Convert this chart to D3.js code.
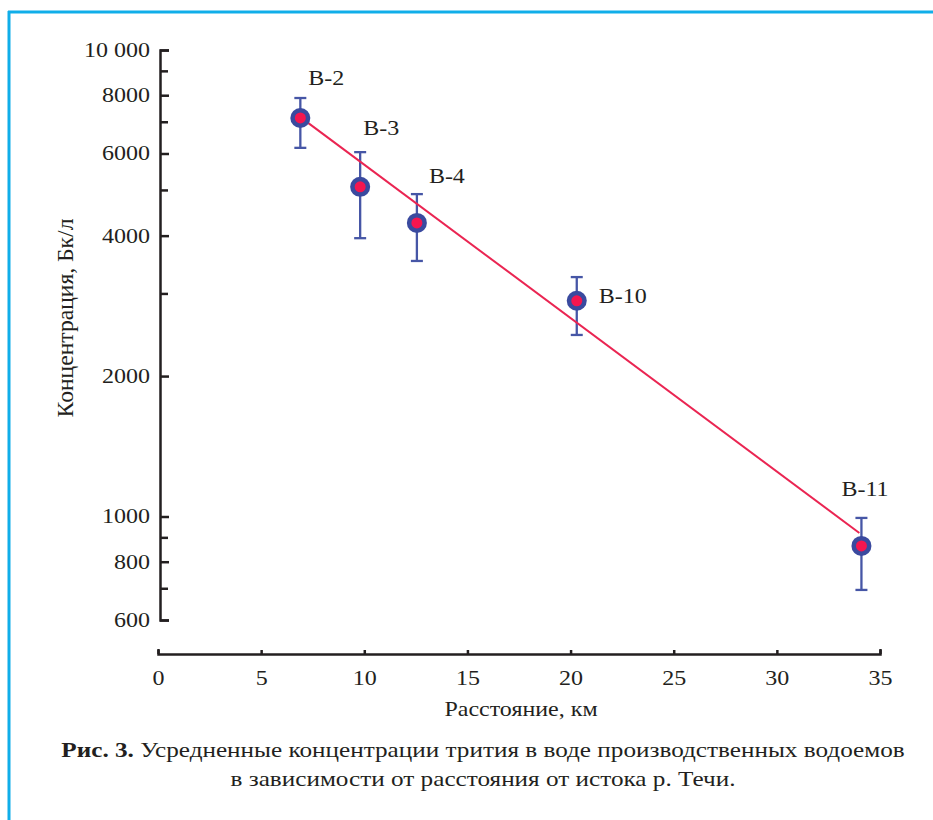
<!DOCTYPE html>
<html>
<head>
<meta charset="utf-8">
<script src="https://cdn.jsdelivr.net/npm/d3@7"></script>
<style>
  body { margin: 0; background: #fff; }
  text { font-family: "Liberation Serif", "DejaVu Serif", serif; fill: #231f20; }
</style>
</head>
<body>
<svg id="plotSVG" width="933" height="820"></svg>
<script>
// points (reservoirs along the Techa)
let names = ["В-2", "В-3", "В-4", "В-10", "В-11"]
let distance = [6.9, 9.8, 12.55, 20.3, 34.1]     // km
let conc = [7150, 5090, 4260, 2900, 865]          // Bq/l
let errLow = [6170, 3950, 3530, 2450, 696]
let errHigh = [7890, 6040, 4910, 3260, 993]

// fitted line, its two ends
let fitX = [6.9, 34.0]
let fitY = [7180, 922]

let yMajor = [10000, 8000, 6000, 4000, 2000, 1000, 800, 600]
let yMinor = [9000, 7000, 5000, 3000, 900, 700]
let xTicks = [0, 5, 10, 15, 20, 25, 30, 35]

// label offsets from the point centre
let labelOffset = [[8, -33], [3, -52], [12, -40], [22, 2], [-20, -50]]

let blue = "#3a4a9f", red = "#f5164f", axisCol = "#231f20"
let stretch = "scale(1.2,1)"   // the original figure is a bit wider than tall

let svg = d3.select("#plotSVG")

// blue frame
svg.append("line").attr("x1", 8).attr("x2", 933).attr("y1", 12).attr("y2", 12)
    .attr("stroke", "#10aee9").attr("stroke-width", 3)
svg.append("line").attr("x1", 9).attr("x2", 9).attr("y1", 11).attr("y2", 820)
    .attr("stroke", "#10aee9").attr("stroke-width", 3)

let xScale = d3.scaleLinear().domain([0, 35]).range([158, 880])
let yScale = d3.scaleLog().domain([600, 10000]).range([620, 50])

// y axis
let yAxis = svg.append("g").attr("transform", "translate(160,0)")
    .call(d3.axisLeft(yScale)
        .tickValues(yMajor)
        .tickFormat(d => d === 10000 ? "10 000" : d)
        .tickSize(-9)
        .tickSizeOuter(-9)
        .tickPadding(8.3))
yAxis.select(".domain").attr("stroke", axisCol).attr("stroke-width", 2.5)
yAxis.selectAll(".tick line").attr("stroke", axisCol).attr("stroke-width", 2.5)
yAxis.selectAll(".tick text")
    .attr("transform", stretch)
    .style("font-size", "20px")
    .style("font-family", "Liberation Serif")
    .attr("fill", axisCol)

yAxis.selectAll(".minor")
    .data(yMinor)
    .join("line")
    .attr("class", "minor")
    .attr("x1", 0).attr("x2", 8)
    .attr("y1", d => yScale(d)).attr("y2", d => yScale(d))
    .attr("stroke", axisCol).attr("stroke-width", 2.5)

// x axis
let xAxis = svg.append("g").attr("transform", "translate(0,654)")
    .call(d3.axisBottom(xScale)
        .tickValues(xTicks)
        .tickSize(-4)
        .tickSizeOuter(-5)
        .tickPadding(17))
xAxis.select(".domain").attr("stroke", axisCol).attr("stroke-width", 2.5)
xAxis.selectAll(".tick line").attr("stroke", axisCol).attr("stroke-width", 2.5)
xAxis.selectAll(".tick text")
    .attr("transform", stretch)
    .style("font-size", "20px")
    .style("font-family", "Liberation Serif")
    .attr("fill", axisCol)

// text helper: SVG has no font stretch, so scale the glyphs
function stretchedText(x, y, txt, anchor, size, tf) {
    let g = svg.append("g")
        .attr("transform", `translate(${x},${y}) ` + (tf || stretch))
    return g.append("text")
        .attr("text-anchor", anchor)
        .style("font-size", (size || 20) + "px")
        .text(txt)
}
stretchedText(521, 716, "Расстояние, км", "middle")
stretchedText(73, 318, "Концентрация, Бк/л", "middle", 20, "scale(1.15,1) rotate(-90) scale(1.18,1)")

let pts = names.map((n, i) => ({
    name: n, x: distance[i], y: conc[i], lo: errLow[i], hi: errHigh[i],
    dx: labelOffset[i][0], dy: labelOffset[i][1]
}))

// error bars
let eb = svg.selectAll(".err")
    .data(pts)
    .join("g")
    .attr("class", "err")
    .attr("stroke", "#4656a6")
    .attr("stroke-width", 2.3)
eb.append("line")
    .attr("x1", d => xScale(d.x)).attr("x2", d => xScale(d.x))
    .attr("y1", d => yScale(d.lo)).attr("y2", d => yScale(d.hi))
eb.append("line")
    .attr("x1", d => xScale(d.x) - 6).attr("x2", d => xScale(d.x) + 6)
    .attr("y1", d => yScale(d.hi)).attr("y2", d => yScale(d.hi))
eb.append("line")
    .attr("x1", d => xScale(d.x) - 6).attr("x2", d => xScale(d.x) + 6)
    .attr("y1", d => yScale(d.lo)).attr("y2", d => yScale(d.lo))

// fitted line
svg.append("path")
    .datum(fitX.map((x, i) => [x, fitY[i]]))
    .attr("fill", "none")
    .attr("stroke", "#ea2552")
    .attr("stroke-width", 2)
    .attr("d", d3.line().x(d => xScale(d[0])).y(d => yScale(d[1])))

// markers
svg.selectAll(".bubble")
    .data(pts)
    .join("circle")
    .attr("class", "bubble")
    .attr("cx", d => xScale(d.x))
    .attr("cy", d => yScale(d.y))
    .attr("r", 10)
    .attr("fill", blue)
svg.selectAll(".bubble-in")
    .data(pts)
    .join("circle")
    .attr("class", "bubble-in")
    .attr("cx", d => xScale(d.x))
    .attr("cy", d => yScale(d.y))
    .attr("r", 5.5)
    .attr("fill", red)

// point names
pts.forEach(d => {
    stretchedText(xScale(d.x) + d.dx, yScale(d.y) + d.dy, d.name, "start")
})

// caption
let cap1 = stretchedText(483, 757, "", "middle", 21)
cap1.append("tspan").style("font-weight", "bold").text("Рис. 3.")
cap1.append("tspan").text(" Усредненные концентрации трития в воде производственных водоемов")
stretchedText(483, 786, "в зависимости от расстояния от истока р. Течи.", "middle", 21)
</script>
</body>
</html>
